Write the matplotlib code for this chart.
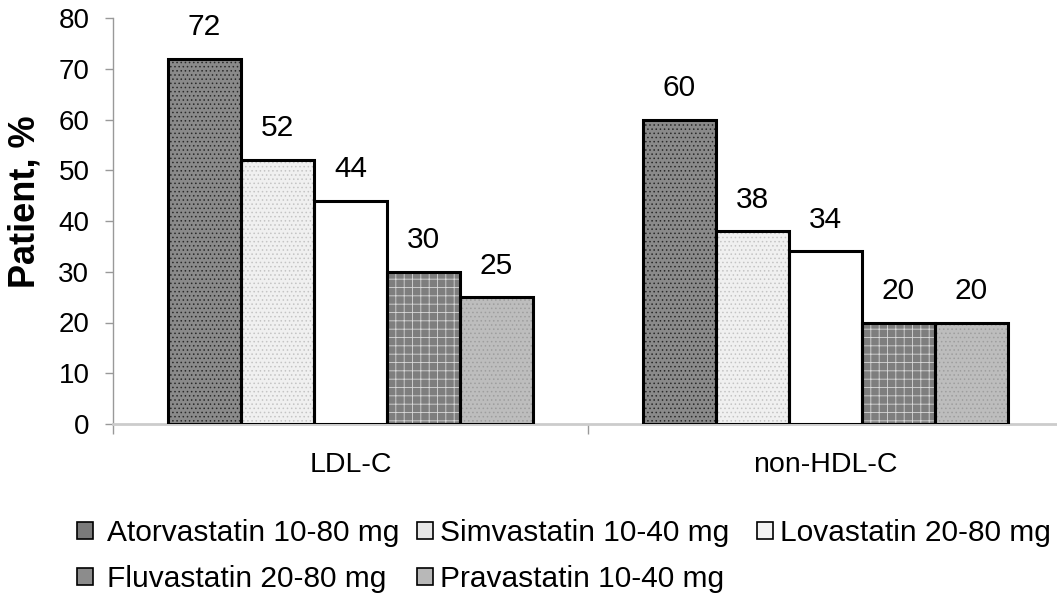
import matplotlib
matplotlib.use("Agg")
import matplotlib.pyplot as plt
from matplotlib.patches import Patch
import numpy as np

categories = ["LDL-C", "non-HDL-C"]
series_names = ["Atorvastatin 10-80 mg", "Simvastatin 10-40 mg", "Lovastatin 20-80 mg",
                "Fluvastatin 20-80 mg", "Pravastatin 10-40 mg"]
atorvastatin = [72, 60]
simvastatin = [52, 38]
lovastatin = [44, 34]
fluvastatin = [30, 20]
pravastatin = [25, 20]
y_ticks = [0, 10, 20, 30, 40, 50, 60, 70, 80]

series_values = [atorvastatin, simvastatin, lovastatin, fluvastatin, pravastatin]

# fill colour, hatch pattern, hatch colour, legend swatch colour
styles = [
    ("#8a8a8a", "....", "#2a2a2a", "#7a7a7a"),
    ("#f0f0f0", "....", "#c4c4c4", "#e6e6e6"),
    ("#ffffff", None, "#ffffff", "#f2f2f2"),
    ("#7e7e7e", "++", "#d8d8d8", "#8c8c8c"),
    ("#bdbdbd", "....", "#9e9e9e", "#b8b8b8"),
]

plt.rcParams["font.family"] = ["Liberation Sans", "DejaVu Sans"]
plt.rcParams["hatch.linewidth"] = 0.6

fig = plt.figure(figsize=(10.57, 5.98), dpi=100)
ax = fig.add_axes([113 / 1057, 1 - 424 / 598, 950 / 1057, (424 - 18) / 598])

x = np.arange(len(categories))
w = 0.1537
for i, vals in enumerate(series_values):
    fc, hatch, hc, _ = styles[i]
    pos = x + (i - 2) * w
    ax.bar(pos, vals, width=w, color=fc, edgecolor=hc, hatch=hatch, linewidth=0, zorder=2)
    ax.bar(pos, vals, width=w, facecolor="none", edgecolor="black", linewidth=2.2, zorder=3)
    for px, v in zip(pos, vals):
        ax.annotate(f"{v}", (px, v), xytext=(0, 17), textcoords="offset points",
                    ha="center", va="baseline", fontsize=21.5)

ax.set_xlim(-0.5, 1.5)
ax.set_ylim(0, 80)
ax.set_yticks(y_ticks)
ax.tick_params(axis="y", labelsize=20, length=6, width=1, color="#999999", pad=11)

ax.set_xticks([-0.5, 0.5, 1.5])
ax.set_xticklabels([])
ax.set_xticks(x, minor=True)
ax.set_xticklabels(categories, minor=True)
ax.tick_params(axis="x", which="major", length=7, width=1, color="#999999")
ax.tick_params(axis="x", which="minor", length=0, labelsize=20.5, pad=20)

for s in ["top", "right"]:
    ax.spines[s].set_visible(False)
ax.spines["left"].set_color("#999999")
ax.spines["left"].set_linewidth(1)
ax.spines["bottom"].set_color("#cccccc")
ax.spines["bottom"].set_linewidth(2)

ax.set_ylabel("Patient, %", fontsize=26, fontweight="bold")
ax.yaxis.set_label_coords(-0.0737, 0.547)

handles = [Patch(facecolor=styles[i][3], edgecolor="black", linewidth=1.2, label=name)
           for i, name in enumerate(series_names)]

# three fixed-width legend columns: (left edge in px, entries, gap between swatch and text)
columns = [(77, [0, 3], 0.5), (417, [1, 4], 0.25), (757, [2], 0.25)]
for left, idx, pad in columns:
    fig.legend([handles[k] for k in idx], [series_names[k] for k in idx],
               ncol=1, loc="upper left", bbox_to_anchor=(left / 1057, 1 - 519 / 598),
               frameon=False, fontsize=21.5, handlelength=0.52, handleheight=0.52,
               handletextpad=pad, labelspacing=0.6, borderaxespad=0, borderpad=0)

fig.savefig("out.png", dpi=100)
